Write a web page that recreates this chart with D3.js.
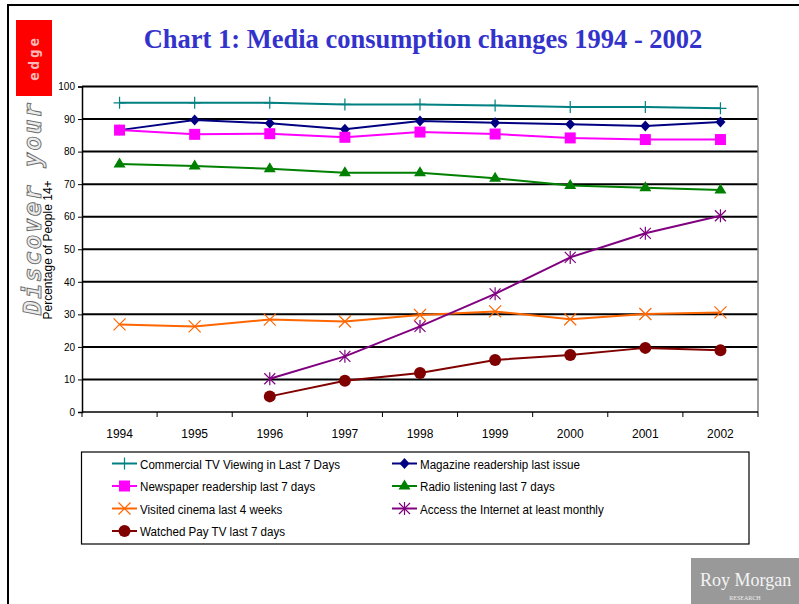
<!DOCTYPE html>
<html>
<head>
<meta charset="utf-8">
<script src="https://cdn.jsdelivr.net/npm/d3@7"></script>
<style>
  body { margin: 0; background: #fff; }
  text { font-family: "Liberation Sans", Arial, sans-serif; }
</style>
</head>
<body>
<script>
// Data
var years = ["1994", "1995", "1996", "1997", "1998", "1999", "2000", "2001", "2002"];
var yTicks = [0, 10, 20, 30, 40, 50, 60, 70, 80, 90, 100];

var commercialTV = [95.0, 95.0, 95.0, 94.5, 94.5, 94.2, 93.7, 93.7, 93.3];
var magazine     = [86.6, 89.7, 88.7, 86.9, 89.4, 88.9, 88.4, 87.9, 89.1];
var newspaper    = [86.6, 85.3, 85.5, 84.4, 86.0, 85.4, 84.2, 83.7, 83.7];
var radio        = [76.2, 75.6, 74.7, 73.5, 73.5, 71.8, 69.6, 68.9, 68.2];
var cinema       = [26.9, 26.3, 28.4, 27.8, 29.8, 30.9, 28.5, 30.1, 30.6];
var internet     = [null, null, 10.2, 17.1, 26.3, 36.3, 47.5, 54.9, 60.3];
var payTV        = [null, null, 4.8, 9.6, 12.0, 16.0, 17.5, 19.7, 19.0];

var seriesNames = [
  "Commercial TV Viewing in Last 7 Days",
  "Magazine readership last issue",
  "Newspaper readership last 7 days",
  "Radio listening last 7 days",
  "Visited cinema last 4 weeks",
  "Access the Internet at least monthly",
  "Watched Pay TV last 7 days"
];
var seriesValues = [commercialTV, magazine, newspaper, radio, cinema, internet, payTV];
var seriesColors = ["#008080", "#000080", "#FF00FF", "#008000", "#FF6600", "#800080", "#800000"];
var seriesMarkers = ["plus", "diamond", "square", "triangle", "cross", "star", "circle"];

var W = 799, H = 604;
var margin = {top: 86.5, right: 41, bottom: 192, left: 82};
var width = W - margin.left - margin.right,
    height = H - margin.top - margin.bottom;

var svg = d3.select("body").append("svg")
  .attr("width", W)
  .attr("height", H);

// page frame
svg.append("path")
  .attr("d", "M8,605 L8,5 L800,5")
  .attr("fill", "none")
  .attr("stroke", "#000")
  .attr("stroke-width", 2);

// title
svg.append("text")
  .attr("x", 423)
  .attr("y", 48)
  .attr("text-anchor", "middle")
  .style("font-family", "'Liberation Serif', 'Times New Roman', serif")
  .style("font-weight", "bold")
  .style("font-size", "26.5px")
  .attr("fill", "#3333CC")
  .text("Chart 1: Media consumption changes 1994 - 2002");

// side logo
svg.append("rect")
  .attr("x", 16).attr("y", 20)
  .attr("width", 36).attr("height", 76)
  .attr("fill", "#FF0000");
svg.append("text")
  .attr("transform", "translate(39,58) rotate(-90)")
  .attr("text-anchor", "middle")
  .style("font-family", "'DejaVu Sans Mono', monospace")
  .style("font-size", "14px")
  .style("font-weight", "bold")
  .style("letter-spacing", "3px")
  .attr("fill", "#ffb8b8")
  .text("edge");
svg.append("text")
  .attr("transform", "translate(41,208) rotate(-90)")
  .attr("text-anchor", "middle")
  .style("font-family", "'DejaVu Sans Mono', monospace")
  .style("font-size", "24px")
  .style("font-style", "italic")
  .style("font-weight", "bold")
  .style("letter-spacing", "2px")
  .attr("fill", "#ececec")
  .attr("stroke", "#6a6a6a")
  .attr("stroke-width", 0.9)
  .text("Discover your");

// y label
svg.append("text")
  .attr("transform", "translate(52,250) rotate(-90)")
  .attr("text-anchor", "middle")
  .style("font-size", "12px")
  .attr("fill", "#000")
  .text("Percentage of People 14+");

var g = svg.append("g")
  .attr("transform", "translate(" + margin.left + "," + margin.top + ")");

var x = d3.scaleBand().domain(years).range([0, width]);
var y = d3.scaleLinear().domain([0, 100]).range([height, 0]);

// gridlines
g.selectAll(".grid")
  .data(yTicks.filter(function(d) { return d > 0; }))
  .enter().append("line")
  .attr("class", "grid")
  .attr("x1", 0).attr("x2", width)
  .attr("y1", function(d) { return y(d); })
  .attr("y2", function(d) { return y(d); })
  .attr("stroke", "#000")
  .attr("stroke-width", 2);

// right border
g.append("line")
  .attr("x1", width).attr("x2", width)
  .attr("y1", 0).attr("y2", height)
  .attr("stroke", "#808080")
  .attr("stroke-width", 1.5);

// y axis
var yAxis = g.append("g")
  .call(d3.axisLeft(y).tickValues(yTicks).tickSize(4).tickPadding(3));
yAxis.select(".domain").attr("stroke-width", 1.5);
yAxis.selectAll("text").style("font-size", "10px").style("font-family", "'Liberation Sans', Arial, sans-serif");

// x axis with ticks at band boundaries
var xAxis = g.append("g")
  .attr("transform", "translate(0," + height + ")");
xAxis.append("line")
  .attr("x1", 0).attr("x2", width)
  .attr("stroke", "#000").attr("stroke-width", 1.5);
xAxis.selectAll(".xt")
  .data(years.concat(["end"]))
  .enter().append("line")
  .attr("x1", function(d, i) { return i * x.bandwidth(); })
  .attr("x2", function(d, i) { return i * x.bandwidth(); })
  .attr("y1", 0).attr("y2", 5)
  .attr("stroke", "#000");
xAxis.selectAll(".xl")
  .data(years)
  .enter().append("text")
  .attr("x", function(d) { return x(d) + x.bandwidth() / 2; })
  .attr("y", 26)
  .attr("text-anchor", "middle")
  .style("font-size", "12px")
  .text(function(d) { return d; });

function drawMarker(sel, type, color, cx, cy) {
  if (type === "plus") {
    sel.append("path").attr("d", "M" + (cx - 6) + "," + cy + "h12M" + cx + "," + (cy - 6) + "v12")
      .attr("stroke", color).attr("stroke-width", 1.2);
  } else if (type === "diamond") {
    sel.append("path").attr("d", "M" + cx + "," + (cy - 5.5) + "l5,5.5l-5,5.5l-5,-5.5z").attr("fill", color);
  } else if (type === "square") {
    sel.append("rect").attr("x", cx - 5.5).attr("y", cy - 5.5).attr("width", 11).attr("height", 11).attr("fill", color);
  } else if (type === "triangle") {
    sel.append("path").attr("d", "M" + cx + "," + (cy - 6.5) + "l6,10l-12,0z").attr("fill", color);
  } else if (type === "cross") {
    sel.append("path").attr("d", "M" + (cx - 6) + "," + (cy - 6) + "l12,12M" + (cx + 6) + "," + (cy - 6) + "l-12,12")
      .attr("stroke", color).attr("stroke-width", 1.2);
  } else if (type === "star") {
    sel.append("path").attr("d", "M" + (cx - 5.5) + "," + (cy - 5.5) + "l11,11M" + (cx + 5.5) + "," + (cy - 5.5) + "l-11,11M" + cx + "," + (cy - 6.5) + "v13")
      .attr("stroke", color).attr("stroke-width", 1.2);
  } else if (type === "circle") {
    sel.append("circle").attr("cx", cx).attr("cy", cy).attr("r", 6).attr("fill", color);
  }
}

var line = d3.line()
  .defined(function(d) { return d.v !== null; })
  .x(function(d) { return x(d.year) + x.bandwidth() / 2; })
  .y(function(d) { return y(d.v); });

seriesValues.forEach(function(vals, si) {
  var pts = years.map(function(yr, i) { return {year: yr, v: vals[i]}; });
  var sg = g.append("g");
  sg.append("path")
    .datum(pts)
    .attr("d", line)
    .attr("fill", "none")
    .attr("stroke", seriesColors[si])
    .attr("stroke-width", 2);
  pts.filter(function(d) { return d.v !== null; }).forEach(function(d) {
    drawMarker(sg, seriesMarkers[si], seriesColors[si], x(d.year) + x.bandwidth() / 2, y(d.v));
  });
});

// legend
var legend = svg.append("g");
legend.append("rect")
  .attr("x", 81.5).attr("y", 452)
  .attr("width", 667.5).attr("height", 92)
  .attr("fill", "#fff")
  .attr("stroke", "#000")
  .attr("stroke-width", 1.2);

seriesNames.forEach(function(name, i) {
  var col = i % 2, row = Math.floor(i / 2);
  var lx = col === 0 ? 112 : 392;
  var ly = 463.5 + row * 22.5;
  legend.append("line")
    .attr("x1", lx).attr("x2", lx + 25)
    .attr("y1", ly).attr("y2", ly)
    .attr("stroke", seriesColors[i]).attr("stroke-width", 2);
  drawMarker(legend, seriesMarkers[i], seriesColors[i], lx + 12.5, ly);
  legend.append("text")
    .attr("transform", "translate(" + (lx + 28) + "," + (ly + 5) + ") scale(0.86,1)")
    .style("font-size", "13.5px")
    .attr("fill", "#000")
    .text(name);
});

// Roy Morgan badge
svg.append("rect")
  .attr("x", 691).attr("y", 558)
  .attr("width", 110).attr("height", 50)
  .attr("fill", "#999");
svg.append("text")
  .attr("x", 700).attr("y", 586)
  .style("font-family", "'Liberation Serif', serif")
  .style("font-size", "18px")
  .attr("fill", "#f4f4f4")
  .text("Roy Morgan");
svg.append("text")
  .attr("x", 745).attr("y", 600)
  .attr("text-anchor", "middle")
  .style("font-family", "'Liberation Serif', serif")
  .style("font-size", "6px")
  .attr("fill", "#eee")
  .text("RESEARCH");
</script>
</body>
</html>
